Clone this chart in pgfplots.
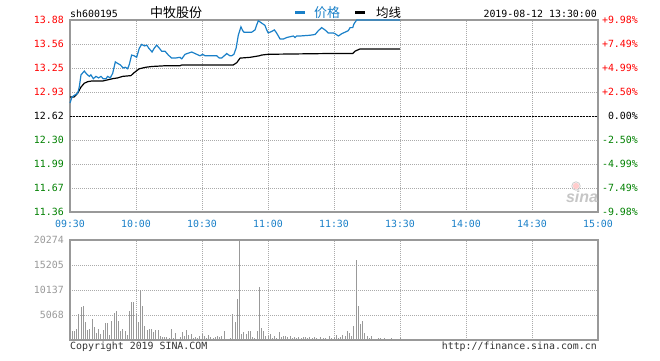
\documentclass[border=0pt]{standalone}
\usepackage{fontspec}
\setmainfont{DejaVu Sans Mono}
\newfontfamily\cjk{Noto Sans CJK SC}
\newfontfamily\sinafont{Liberation Sans}
\usepackage{pgfplots}
\pgfplotsset{compat=1.18}
\definecolor{pr}{HTML}{FF0000}
\definecolor{pg}{HTML}{008000}
\definecolor{lb}{HTML}{1A80C8}
\definecolor{fr}{HTML}{999999}
\definecolor{gd}{HTML}{AAAAAA}
\definecolor{tx}{HTML}{333333}

\pgfplotstableread{
m p
0 12.79
0.9 12.87
1.95 12.89
3.5 12.92
4.2 13.00
5 13.16
6.5 13.21
7.6 13.17
8.8 13.14
9.5 13.16
10.6 13.11
11.8 13.14
13 13.12
14.1 13.14
15.1 13.11
16.4 13.11
17.1 13.14
18.3 13.12
19.4 13.18
20.6 13.33
21.7 13.31
22.9 13.29
24.2 13.25
25.1 13.26
26.2 13.24
27 13.30
28 13.42
29.2 13.41
30.3 13.39
31.5 13.51
32.6 13.56
33.8 13.54
34.9 13.55
35.8 13.51
37.3 13.46
38.3 13.51
39.4 13.55
40.6 13.51
41.7 13.47
43.2 13.47
44.7 13.42
46.2 13.38
47.7 13.38
50 13.39
50.8 13.37
52.3 13.43
55.3 13.46
57.6 13.43
59.1 13.41
60.3 13.43
61.4 13.41
65.1 13.41
66.7 13.41
67.9 13.38
68.9 13.38
70.5 13.42
71.2 13.44
72.7 13.41
73.5 13.41
74.5 13.43
75.5 13.51
76.5 13.68
77.7 13.79
78.5 13.74
79.1 13.72
82.6 13.72
84.1 13.75
84.8 13.81
85.6 13.87
87.1 13.84
88.6 13.81
89.4 13.75
90.1 13.71
91.7 13.73
92.9 13.75
93.9 13.71
95.5 13.63
97 13.63
98.5 13.65
100 13.66
101.5 13.67
102.3 13.65
103 13.67
104.5 13.67
109.1 13.68
111.4 13.69
112.9 13.74
114.4 13.78
115.9 13.75
117.4 13.71
119.7 13.71
120.5 13.70
122 13.67
123.5 13.70
125 13.72
126.5 13.74
127.3 13.78
128.5 13.78
129.1 13.83
130.3 13.88
150 13.88
}\pricetab

\pgfplotstableread{
m a
0 12.87
1.9 12.87
3.5 12.92
5 13.00
6.5 13.05
8 13.07
10 13.08
15 13.08
19.4 13.11
21.7 13.12
23.9 13.14
27.7 13.15
29.2 13.19
31.5 13.24
34.5 13.26
37.3 13.27
43.6 13.28
50 13.28
50.8 13.29
74.2 13.29
75.8 13.32
77.3 13.38
81.8 13.39
86 13.41
87.1 13.42
90.1 13.43
117.4 13.44
128.5 13.44
129.5 13.47
131.8 13.50
150 13.50
}\avgtab

\pgfplotstableread{
m v
0 4258
1 1825
2 1825
3 2230
4 5271
5 6690
6 6893
7 3649
8 2027
9 2230
10 4258
11 2636
12 1419
13 2230
14 1216
15 2027
16 3447
17 3447
18 1014
19 3852
20 5474
21 5879
22 3852
23 1825
24 2230
25 1825
26 1014
27 5879
28 7704
29 7704
30 5271
31 3650
32 10135
33 6893
34 2838
35 2027
36 2230
37 2230
38 1622
39 2027
40 2027
41 811
42 608
43 608
44 608
45 405
46 2230
47 405
48 1419
49 203
50 608
51 1622
52 811
53 2027
54 1013
55 1216
56 405
57 608
58 405
59 811
60 1216
61 811
62 405
63 1013
64 608
65 405
66 608
67 811
68 608
69 811
70 1824
71 203
72 203
73 405
74 5270
75 3650
76 8311
77 20274
78 1216
79 1622
80 1216
81 1824
82 1824
83 608
84 405
85 1824
86 10743
87 2432
88 1824
89 811
90 811
91 1216
92 405
93 811
94 405
95 1622
96 608
97 811
98 811
99 608
100 811
101 405
102 608
103 405
104 608
105 405
106 608
107 608
108 405
109 608
110 405
111 608
112 405
113 203
114 608
115 405
116 405
117 203
118 811
119 405
120 608
121 1013
122 405
123 608
124 1013
125 811
126 1824
127 1419
128 811
129 2838
130 16219
131 6892
132 3243
133 3851
134 1419
135 811
136 405
137 811
138 203
139 203
140 405
141 405
142 203
143 405
144 203
145 203
146 405
147 203
148 203
149 203
150 405
}\voltab

\begin{document}
\begin{tikzpicture}
\useasboundingbox (0pt,0pt) rectangle (660pt,360pt);
\fontsize{9.9}{12}\selectfont
\pgfplotsset{
  myax/.style={
    scale only axis, anchor=south west, width=528pt,
    xmin=0, xmax=240,
    major tick length=0pt,
    tick label style={font=\fontsize{9.9}{12}\selectfont},
    major grid style={gd, line width=0.8pt, dash pattern=on 1pt off 1pt},
    axis line style={fr, line width=1.3pt},
    scaled ticks=false,
  }
}
% price panel
\begin{axis}[myax, at={(70pt,148pt)}, height=192pt,
  ymin=11.36, ymax=13.88, clip=false,
  xtick={0,30,...,240},
  xticklabels={09:30,10:00,10:30,11:00,11:30,13:30,14:00,14:30,15:00},
  ytick={11.36,11.675,11.99,12.305,12.62,12.935,13.25,13.565,13.88},
  yticklabels={\textcolor{pg}{11.36},\textcolor{pg}{11.67},\textcolor{pg}{11.99},\textcolor{pg}{12.30},\textcolor{black}{12.62},\textcolor{pr}{12.93},\textcolor{pr}{13.25},\textcolor{pr}{13.56},\textcolor{pr}{13.88}},
  grid=major,
  xticklabel style={text=lb, anchor=north, inner sep=0pt, yshift=-8pt},
  yticklabel style={anchor=east, inner sep=0pt, xshift=-6pt},
]
\addplot[black, line width=1pt, dash pattern=on 2pt off 1pt, forget plot] coordinates {(0,12.62) (240,12.62)};
\addplot[black, line width=1.2pt, forget plot] table[x=m, y=a] {\avgtab};
\addplot[lb, line width=1.2pt, forget plot] table[x=m, y=p] {\pricetab};
\end{axis}
% right percentage labels
\begin{axis}[myax, at={(70pt,148pt)}, height=192pt,
  ymin=-9.98, ymax=9.98,
  axis x line=none, axis y line*=right,
  y axis line style={draw=none},
  ytick={-9.98,-7.485,-4.99,-2.495,0,2.495,4.99,7.485,9.98},
  yticklabels={\textcolor{pg}{-9.98\%},\textcolor{pg}{-7.49\%},\textcolor{pg}{-4.99\%},\textcolor{pg}{-2.50\%},\textcolor{black}{0.00\%},\textcolor{pr}{+2.50\%},\textcolor{pr}{+4.99\%},\textcolor{pr}{+7.49\%},\textcolor{pr}{+9.98\%}},
  yticklabel style={anchor=east, inner sep=0pt, xshift=40pt},
]
\addplot[draw=none, forget plot] coordinates {(0,0)};
\end{axis}
% volume panel
\begin{axis}[myax, at={(70pt,20pt)}, height=100pt,
  ymin=0, ymax=20274,
  xtick={30,60,...,210}, xticklabels={},
  ytick={5068,10137,15205,20274},
  yticklabels={5068,10137,15205,20274},
  grid=major,
  yticklabel style={text=fr, anchor=east, inner sep=0pt, xshift=-6pt},
]
\addplot[ycomb, fr, line width=1pt, forget plot] table[x=m, y=v] {\voltab};
\end{axis}
% header
\node[anchor=base west, inner sep=0pt] at (70pt,343pt) {sh600195};
\node[inner sep=0pt] at (176pt,347.5pt) {\cjk\fontsize{13}{14}\selectfont 中牧股份};
\draw[lb, line width=3pt] (295pt,347.5pt) -- (305pt,347.5pt);
\node[anchor=west, inner sep=0pt, text=lb] at (314pt,347.5pt) {\cjk\fontsize{13}{14}\selectfont 价格};
\draw[black, line width=3pt] (355pt,347.5pt) -- (365pt,347.5pt);
\node[anchor=west, inner sep=0pt] at (376pt,347.5pt) {\cjk\fontsize{12.5}{14}\selectfont 均线};
\node[anchor=base east, inner sep=0pt] at (597pt,343pt) {2019-08-12 13:30:00};
% footer
\node[anchor=base west, inner sep=0pt, text=tx] at (70pt,10.5pt) {Copyright 2019 SINA.COM};
\node[anchor=base east, inner sep=0pt, text=tx] at (597pt,10.5pt) {http://finance.sina.com.cn};
% watermark
\fill[red!20] (576pt,174pt) circle (3.2pt);
\draw[gray!40, line width=0.8pt] (576pt,174pt) circle (4.2pt);
\node[text=gray!45, inner sep=0pt] at (582pt,163pt) {\sinafont\bfseries\itshape\fontsize{16}{16}\selectfont sina};
\end{tikzpicture}
\end{document}
